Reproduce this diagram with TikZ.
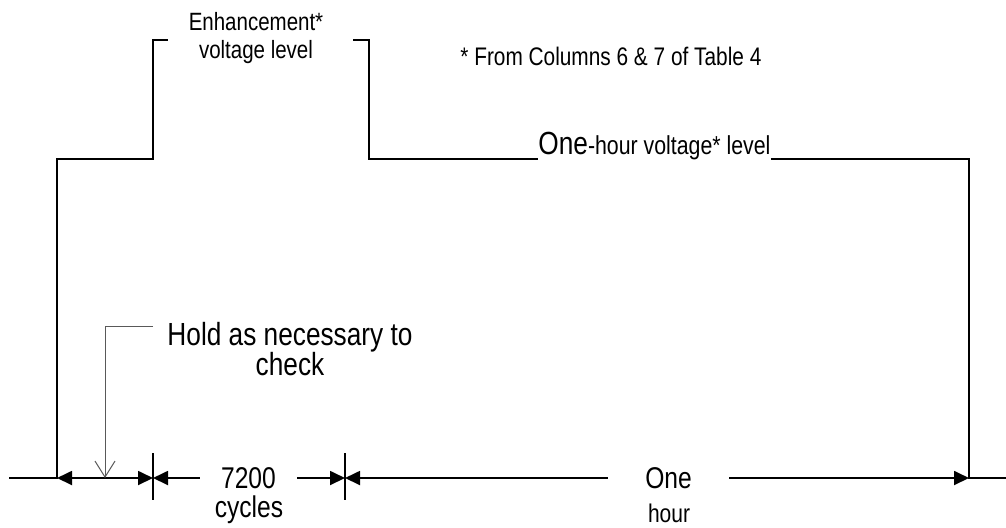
\documentclass[tikz,border=0pt]{standalone}
\usepackage{fontspec}
\setmainfont{Liberation Sans}[FakeStretch=0.82]
\usepackage{tikz}
\usetikzlibrary{positioning}
\usetikzlibrary{arrows.meta}
\tikzset{wave/.style={draw,line width=1.2pt},
    dimline/.style={draw,line width=0.9pt},
    tip/.style={-{Triangle[length=7.5pt,width=7pt]}},
    tips/.style={{Triangle[length=7.5pt,width=7pt]}-{Triangle[length=7.5pt,width=7pt]}},
    leader/.style={draw,black!65,line width=0.5pt,-{Straight Barb[length=8pt,width=10pt]}},
    txt/.style={inner sep=0pt},
    big/.style={font=\fontsize{16}{15}\selectfont},
    mid/.style={font=\fontsize{15}{17}\selectfont},
    small/.style={font=\fontsize{12.5}{14}\selectfont}}

\begin{document}
\begin{tikzpicture}[x=0.5pt,y=-0.5pt]
\useasboundingbox (0,0) rectangle (1006,527);
\coordinate (lo0) at (9,478);
\coordinate (rise) at (57,478);
\coordinate (hold) at (153,478);
\coordinate (cyc) at (345,478);
\coordinate (fall) at (969,478);
\coordinate (lo1) at (1006,478);
\coordinate (step) at (153,159);
\coordinate (enhl) at (153,40);
\coordinate (enhend) at (168,40);
\coordinate (enhbeg) at (353,40);
\coordinate (enhr) at (369,40);
\coordinate (drop) at (369,159);
\coordinate (top) at (969,159);
\coordinate (ldr) at (153,326);
\coordinate (ldrtip) at (105,478);

\node[txt,small,align=center,anchor=base] (enh) at (256,58) {Enhancement*\\voltage level};
\node[txt,anchor=base west,font=\fontsize{12.7}{14}\selectfont] (note) at (460,65)
    {* From Columns 6 \& 7 of Table 4};
\node[txt,anchor=base west] (onelvl) at (538,154)
    {{\fontsize{16}{18}\selectfont One}{\fontsize{13}{15}\selectfont -hour voltage* level}};
\node[txt,big,align=center,anchor=base] (chk) at (290,375) {Hold as necessary to\\check};
\node[mid,inner ysep=0pt,inner xsep=10.5pt] (n7200) at (248.5,478) {7200};
\node[txt,mid,anchor=base] (ncyc) at (249,517) {cycles};
\node[mid,inner ysep=0pt,inner xsep=18.5pt] (none) at (668.5,478) {One};
\node[txt,anchor=base,font=\fontsize{12.8}{14}\selectfont] (nhr) at (669,522) {hour};

\draw[wave] (lo0) -- (rise) |- (step) -- (enhl) -- (enhend);
\draw[wave] (enhbeg) -- (enhr) -- (drop) -- (drop -| onelvl.west);
\draw[wave] (onelvl.east |- top) -- (top) -- (fall) -- (lo1);

\draw[dimline,tips] (rise) -- (hold);
\draw[dimline,tip] (n7200.west) -- (hold);
\draw[dimline,tip] (n7200.east) -- (cyc);
\draw[dimline,tip] (none.west) -- (cyc);
\draw[dimline,tip] (none.east) -- (fall);
\draw[dimline] (hold) ++(0,-25) -- ++(0,47);
\draw[dimline] (cyc) ++(0,-25) -- ++(0,47);

\draw[leader] (ldr) -| (ldrtip);
\end{tikzpicture}
\end{document}
